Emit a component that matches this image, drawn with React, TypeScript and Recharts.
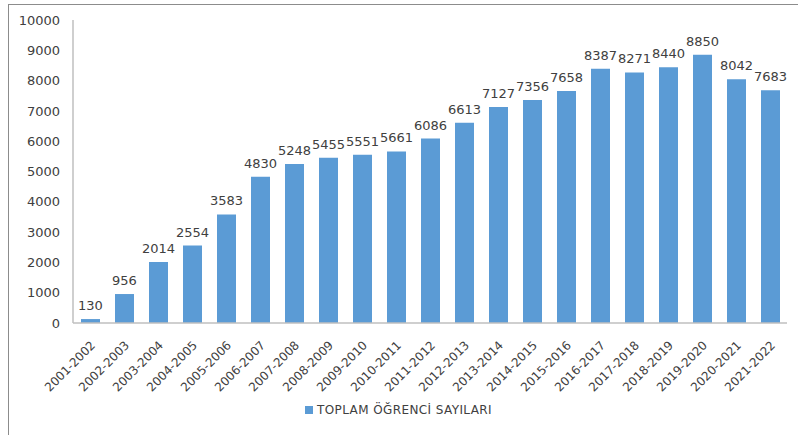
import { BarChart, Bar, XAxis, YAxis, LabelList, Legend } from "recharts";

// 2001-2022 öğretim yılları
const years = [
  "2001-2002", "2002-2003", "2003-2004", "2004-2005", "2005-2006", "2006-2007", "2007-2008",
  "2008-2009", "2009-2010", "2010-2011", "2011-2012", "2012-2013", "2013-2014", "2014-2015",
  "2015-2016", "2016-2017", "2017-2018", "2018-2019", "2019-2020", "2020-2021", "2021-2022",
];

// toplam öğrenci sayıları
const students = [
  130, 956, 2014, 2554, 3583, 4830, 5248, 5455, 5551, 5661, 6086, 6613, 7127, 7356, 7658, 8387,
  8271, 8440, 8850, 8042, 7683,
];

const yTicks = [0, 1000, 2000, 3000, 4000, 5000, 6000, 7000, 8000, 9000, 10000];

const seriesName = "TOPLAM ÖĞRENCİ SAYILARI";
const barColor = "#5B9BD5";
const textColor = "#404040";
const font = "'DejaVu Sans', sans-serif";

const chartData = years.map((year, i) => ({ year, value: students[i] }));

const LegendBox = () => (
  <div
    style={{
      display: "flex",
      alignItems: "center",
      justifyContent: "center",
      fontFamily: font,
      fontSize: 12,
      letterSpacing: 0.4,
      color: textColor,
      paddingLeft: 10,
    }}
  >
    <span style={{ width: 8, height: 8, background: barColor, marginRight: 4, display: "inline-block" }} />
    {seriesName}
  </div>
);

export default function App() {
  return (
    <div style={{ position: "absolute", left: 0, top: 0, width: 798, height: 435, background: "#fff", overflow: "hidden" }}>
      <div
        style={{
          position: "absolute",
          left: 8,
          top: 4,
          width: 820,
          height: 460,
          border: "1px solid #8c8c8c",
        }}
      />
      <BarChart
        width={798}
        height={435}
        data={chartData}
        margin={{ top: 20, right: 11, bottom: 12, left: 0 }}
        barSize={19}
        style={{ position: "absolute", left: 0, top: 0 }}
      >
        <XAxis
          dataKey="year"
          interval={0}
          tickLine={false}
          tickMargin={11}
          axisLine={{ stroke: "#bfbfbf", strokeWidth: 1.5 }}
          height={80}
          angle={-45}
          textAnchor="end"
          tick={{ fill: textColor, fontSize: 12, fontFamily: font }}
        />
        <YAxis
          domain={[0, 10000]}
          ticks={yTicks}
          interval={0}
          width={73}
          tickLine={false}
          tickMargin={7}
          axisLine={{ stroke: "#bfbfbf", strokeWidth: 1.5 }}
          tick={{ fill: textColor, fontSize: 13, fontFamily: font }}
        />
        <Legend verticalAlign="bottom" height={20} content={<LegendBox />} />
        <Bar dataKey="value" name={seriesName} fill={barColor} isAnimationActive={false}>
          <LabelList dataKey="value" position="top" fill={textColor} fontSize={13} fontFamily={font} offset={9} />
        </Bar>
      </BarChart>
    </div>
  );
}
